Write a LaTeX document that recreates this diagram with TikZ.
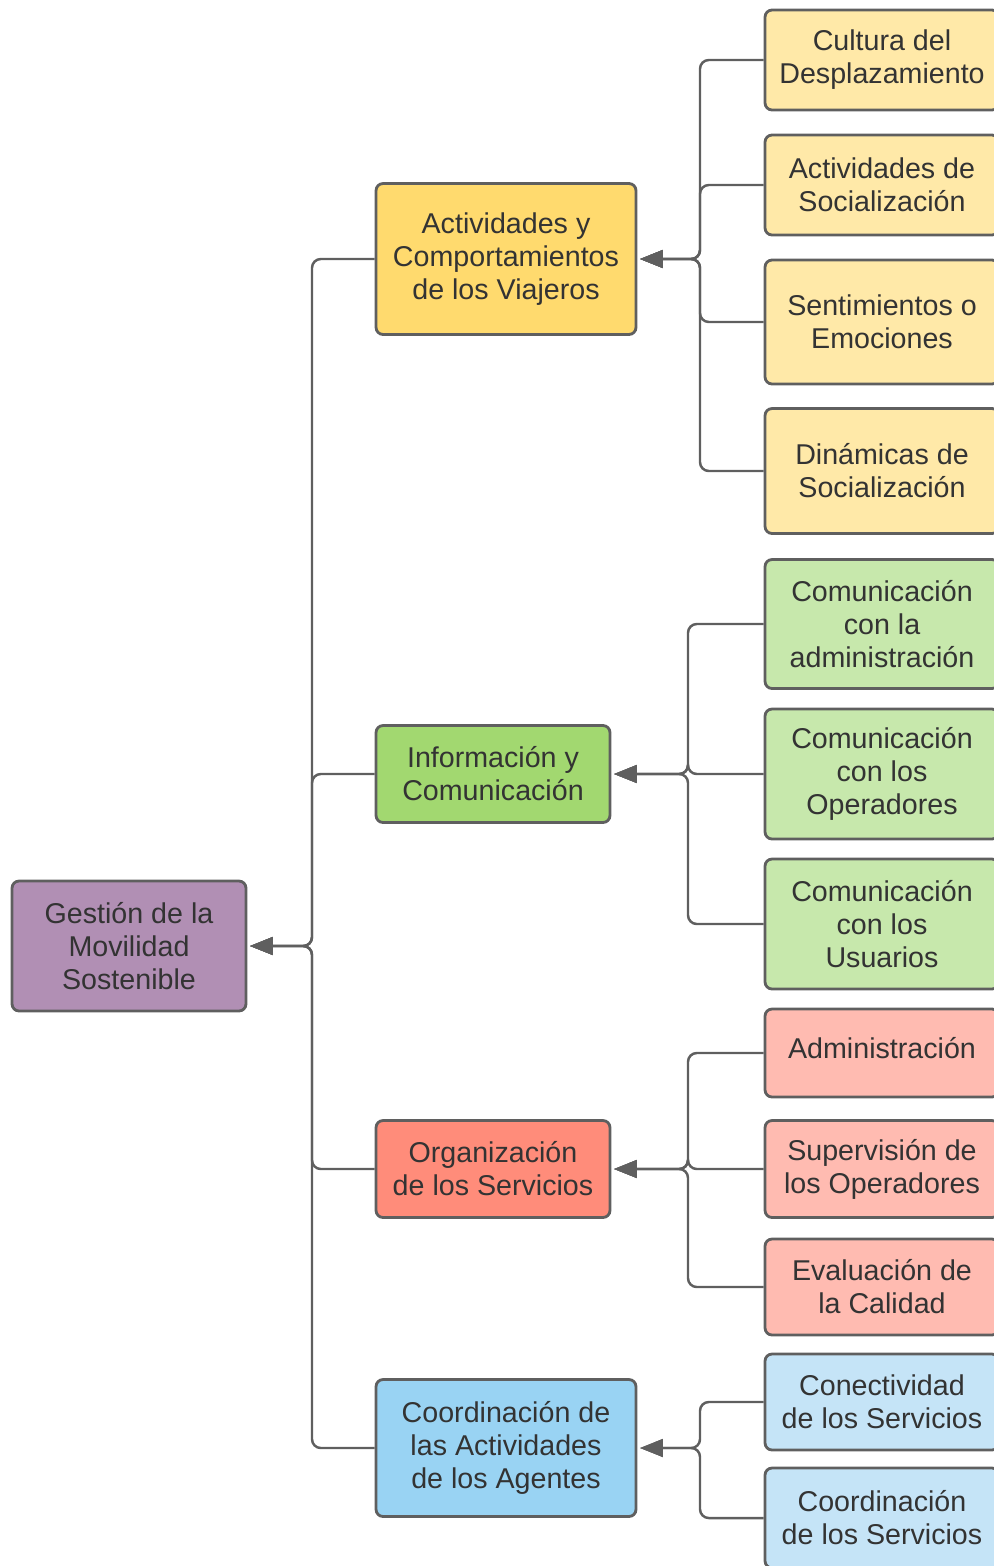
\documentclass[tikz,border=0pt]{standalone}
\usepackage{fontspec}
\setmainfont{Liberation Sans}
\usetikzlibrary{arrows.meta, positioning}
\definecolor{cPurple}{HTML}{B18FB4}
\definecolor{cYellow}{HTML}{FFDA6E}
\definecolor{cYellowL}{HTML}{FFE9A8}
\definecolor{cGreen}{HTML}{A2D870}
\definecolor{cGreenL}{HTML}{C7E8AC}
\definecolor{cRed}{HTML}{FF8C7A}
\definecolor{cRedL}{HTML}{FFBBB1}
\definecolor{cBlue}{HTML}{99D3F3}
\definecolor{cBlueL}{HTML}{C5E4F7}
\definecolor{cLine}{HTML}{5F5F5F}
\definecolor{cText}{HTML}{333333}
\tikzset{
  box/.style={
    rectangle, rounded corners=4pt, draw=cLine, line width=1.6pt, fill=#1,
    align=center, text=cText, inner sep=0pt,
    font=\fontsize{16.3}{18.7}\selectfont
  },
  leaf/.style={box=#1, minimum width=4.68cm},
  conn/.style={draw=cLine, line width=1.4pt, rounded corners=5pt,
    -{Triangle[length=13pt, width=10pt]}, shorten >=1.5pt},
}

\begin{document}
\begin{tikzpicture}[x=0.02cm, y=-0.02cm]
  \path[use as bounding box, clip] (0,0) rectangle (994,1566);

  % Root
  \node[box=cPurple, minimum width=4.68cm, minimum height=2.6cm] (gestion) at (129,946) {
    Gestión de la\\ Movilidad\\ Sostenible
  };

  % Level 1
  \node[box=cYellow, minimum width=5.2cm, minimum height=3.02cm] (viajeros) at (506,259) {
    Actividades y\\ Comportamientos\\ de los Viajeros
  };
  \node[box=cGreen, minimum width=4.68cm, minimum height=1.94cm] (info) at (493,774) {
    Información y\\ Comunicación
  };
  \node[box=cRed, minimum width=4.68cm, minimum height=1.94cm] (organ) at (493,1169) {
    Organización\\ de los Servicios
  };
  \node[box=cBlue, minimum width=5.2cm, minimum height=2.74cm] (coord) at (506,1448) {
    Coordinación de\\ las Actividades\\ de los Agentes
  };

  % Leaves: travellers
  \node[leaf=cYellowL, minimum height=2.0cm] (cultura) at (882,60) {Cultura del\\ Desplazamiento};
  \node[leaf=cYellowL, minimum height=2.0cm] (actsoc) at (882,185) {Actividades de\\ Socialización};
  \node[leaf=cYellowL, minimum height=2.48cm] (sentim) at (882,322) {Sentimientos o\\ Emociones};
  \node[leaf=cYellowL, minimum height=2.5cm] (dinam) at (882,471) {Dinámicas de\\ Socialización};

  % Leaves: information
  \node[leaf=cGreenL, minimum height=2.58cm] (comadm) at (882,624) {Comunicación\\ con la\\ administración};
  \node[leaf=cGreenL, minimum height=2.6cm] (comope) at (882,774) {Comunicación\\ con los\\ Operadores};
  \node[leaf=cGreenL, minimum height=2.6cm] (comusu) at (882,924) {Comunicación\\ con los\\ Usuarios};

  % Leaves: organisation
  \node[leaf=cRedL, minimum height=1.76cm, text depth=0.2cm] (admin) at (882,1053) {Administración};
  \node[leaf=cRedL, minimum height=1.94cm] (superv) at (882,1169) {Supervisión de\\ los Operadores};
  \node[leaf=cRedL, minimum height=1.92cm] (evalu) at (882,1287) {Evaluación de\\ la Calidad};

  % Leaves: coordination
  \node[leaf=cBlueL, minimum height=1.92cm] (conect) at (882,1402) {Conectividad\\ de los Servicios};
  \node[leaf=cBlueL, minimum height=2.0cm] (coserv) at (882,1518) {Coordinación\\ de los Servicios};

  % Bus lines
  \coordinate (busR) at (312,0);
  \coordinate (busA) at (700,0);
  \coordinate (busB) at (688,0);
  \coordinate (busC) at (688,0);
  \coordinate (busD) at (700,0);

  % Arrows to root
  \foreach \n in {viajeros, info, organ, coord}
    \draw[conn] (\n.west) -| (busR |- gestion.east) -- (gestion.east);

  % Arrows to level 1
  \foreach \n in {cultura, actsoc, sentim, dinam}
    \draw[conn] (\n.west) -| (busA |- viajeros.east) -- (viajeros.east);
  \foreach \n in {comadm, comope, comusu}
    \draw[conn] (\n.west) -| (busB |- info.east) -- (info.east);
  \foreach \n in {admin, superv, evalu}
    \draw[conn] (\n.west) -| (busC |- organ.east) -- (organ.east);
  \foreach \n in {conect, coserv}
    \draw[conn] (\n.west) -| (busD |- coord.east) -- (coord.east);

\end{tikzpicture}
\end{document}
